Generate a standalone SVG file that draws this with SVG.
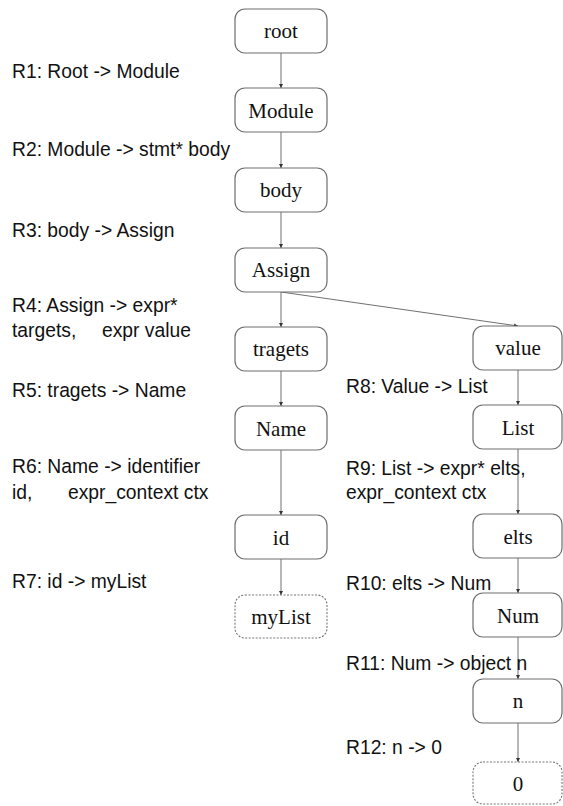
<svg xmlns="http://www.w3.org/2000/svg" width="563" height="806" viewBox="0 0 563 806">
<style>
.box{fill:#fff;stroke:#6e6e6e;stroke-width:1.2}
.dash{fill:#fff;stroke:#777;stroke-width:1.1;stroke-dasharray:2 1.5}
.lbl{font-family:"Liberation Serif","Times New Roman",serif;font-size:21px;fill:#111;text-anchor:middle}
.rule{font-family:"Liberation Sans",Arial,sans-serif;font-size:19.3px;fill:#111}
.edge{stroke:#707070;stroke-width:1;fill:none;marker-end:url(#ah)}
</style>
<defs>
<marker id="ah" viewBox="0 0 6 6" refX="6" refY="3" markerWidth="4" markerHeight="4" orient="auto" markerUnits="userSpaceOnUse">
<path d="M0,0 L6,3 L0,6 z" fill="#333"/>
</marker>
</defs>
<rect width="563" height="806" fill="#fff"/>
<g id="connectors">
<line class="edge" x1="281" y1="53" x2="281" y2="88"/>
<line class="edge" x1="281" y1="132" x2="281" y2="168"/>
<line class="edge" x1="281" y1="212" x2="281" y2="248"/>
<line class="edge" x1="281" y1="292" x2="281" y2="327"/>
<line class="edge" x1="281" y1="292" x2="518" y2="326"/>
<line class="edge" x1="281" y1="371" x2="281" y2="406"/>
<line class="edge" x1="281" y1="450" x2="281" y2="515"/>
<line class="edge" x1="281" y1="559" x2="281" y2="595"/>
<line class="edge" x1="518" y1="370" x2="518" y2="405"/>
<line class="edge" x1="518" y1="449" x2="518" y2="514"/>
<line class="edge" x1="518" y1="558" x2="518" y2="593"/>
<line class="edge" x1="518" y1="637" x2="518" y2="679"/>
<line class="edge" x1="518" y1="723" x2="518" y2="762"/>
</g>
<g id="rules">
<text class="rule" x="12" y="78">R1: Root -&gt; Module</text>
<text class="rule" x="12" y="156">R2: Module -&gt; stmt* body</text>
<text class="rule" x="12" y="237">R3: body -&gt; Assign</text>
<text class="rule" x="12" y="312">R4: Assign -&gt; expr*</text>
<text class="rule" y="337"><tspan x="12">targets,</tspan><tspan x="102">expr value</tspan></text>
<text class="rule" x="12" y="397">R5: tragets -&gt; Name</text>
<text class="rule" x="12" y="473">R6: Name -&gt; identifier</text>
<text class="rule" y="499"><tspan x="12">id,</tspan><tspan x="68">expr_context ctx</tspan></text>
<text class="rule" x="12" y="588">R7: id -&gt; myList</text>
<text class="rule" x="346" y="393">R8: Value -&gt; List</text>
<text class="rule" x="346" y="475">R9: List -&gt; expr* elts,</text>
<text class="rule" x="346" y="499">expr_context ctx</text>
<text class="rule" x="346" y="590">R10: elts -&gt; Num</text>
<text class="rule" x="346" y="670">R11: Num -&gt; object n</text>
<text class="rule" x="346" y="754">R12: n -&gt; 0</text>
</g>
<g id="n-root"><rect class="box" x="235" y="9" width="92" height="44" rx="10"/><text class="lbl" x="281" y="38">root</text></g>
<g id="n-module"><rect class="box" x="235" y="88" width="92" height="44" rx="10"/><text class="lbl" x="281" y="118">Module</text></g>
<g id="n-body"><rect class="box" x="235" y="168" width="92" height="44" rx="10"/><text class="lbl" x="281" y="197">body</text></g>
<g id="n-assign"><rect class="box" x="235" y="248" width="92" height="44" rx="10"/><text class="lbl" x="281" y="277">Assign</text></g>
<g id="n-tragets"><rect class="box" x="235" y="327" width="92" height="44" rx="10"/><text class="lbl" x="281" y="356">tragets</text></g>
<g id="n-name"><rect class="box" x="235" y="406" width="92" height="44" rx="10"/><text class="lbl" x="281" y="436">Name</text></g>
<g id="n-id"><rect class="box" x="235" y="515" width="92" height="44" rx="10"/><text class="lbl" x="281" y="545">id</text></g>
<g id="n-mylist"><rect class="dash" x="235" y="595" width="92" height="43" rx="10"/><text class="lbl" x="281" y="624">myList</text></g>
<g id="n-value"><rect class="box" x="473" y="326" width="89" height="44" rx="10"/><text class="lbl" x="518" y="355">value</text></g>
<g id="n-list"><rect class="box" x="473" y="405" width="89" height="44" rx="10"/><text class="lbl" x="518" y="435">List</text></g>
<g id="n-elts"><rect class="box" x="473" y="514" width="89" height="44" rx="10"/><text class="lbl" x="518" y="544">elts</text></g>
<g id="n-num"><rect class="box" x="473" y="593" width="89" height="44" rx="10"/><text class="lbl" x="518" y="623">Num</text></g>
<g id="n-n"><rect class="box" x="473" y="679" width="89" height="44" rx="10"/><text class="lbl" x="518" y="708">n</text></g>
<g id="n-0"><rect class="dash" x="473" y="762" width="89" height="42" rx="10"/><text class="lbl" x="518" y="791">0</text></g>
</svg>
